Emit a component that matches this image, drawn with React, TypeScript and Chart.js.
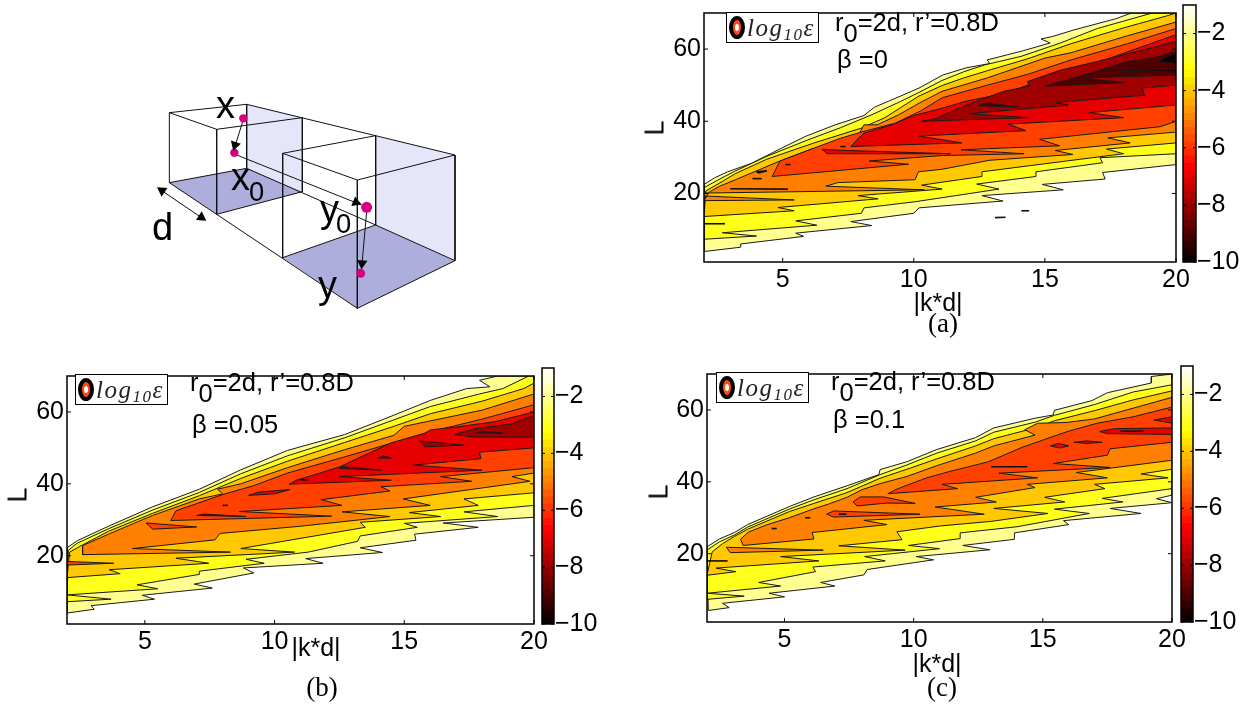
import React, { useEffect, useRef } from "react";
import { Chart, registerables } from "chart.js";
Chart.register(...registerables);

type P = number[][];

// ---------- level colours ----------
const C_PALE = "#ffff8f", C_YEL = "#ffff1c", C_GOLD = "#ffc800", C_ORG = "#ff8000", C_ROR = "#ff4000",
  C_RED = "#e60000", C_DRK = "#a00000", C_DK2 = "#500000", C_BLK = "#150000";

// ---------- panel (a)  beta = 0 : contour chains [ |k*d| , L ] ----------
const aLow1: P = [[2,3.9],[3.4,5.1],[3.4,6],[5.8,8.1],[5.5,9],[8.4,11.1],[7.6,12.2],[10,14.5],[10.2,16],[13.4,17.9],[12.6,19.4],[15.7,21],[14.9,22.5],[17.3,24],[17.2,25.8],[20,28]];
const aUp1: P = [[20,70],[18.3,70],[17.7,68.4],[16.1,65.3],[15.3,63.5],[14.85,62.8],[15.2,61.7],[14.15,59.5],[12.8,57],[12.9,56],[12,54.8],[11.1,52.8],[10.2,49.2],[9.5,47],[8.5,43.9],[8.1,41.6],[7,39],[5.9,35.9],[5,32.7],[3.8,28.3],[2.9,26],[2.4,24.3],[2,22.5]];
const aLow2: P = [[2,7.3],[4,8.2],[2.7,9.1],[6.3,11.2],[5.5,12.4],[8,14.5],[8.1,16],[10.05,17.7],[13.25,21.2],[12.4,22.6],[14.66,24.7],[14.66,26],[17.2,28.5],[17.1,29.9],[20,31]];
const aUp2: P = [[20,70],[19.1,70],[17,65.7],[15.6,61.7],[14.1,58],[12.7,55.6],[11.9,53.7],[11.08,51.3],[10.2,48],[9.5,45.5],[8.4,41.8],[7.2,38.2],[5.95,34.8],[4.4,30.3],[3.13,26],[2.5,23.6],[2,21.6]];
const aLow3: P = [[2,13.6],[5.44,15.2],[4.82,16.1],[8.64,18.5],[7.87,19.4],[11.08,21.2],[10.3,22.3],[12.6,24.7],[12.6,26],[18,31],[17.35,32.3],[20,34]];
const aUp3: P = [[20,70],[19.7,69.3],[18.06,66],[16,61.5],[14.34,57.3],[12.8,54],[11.9,52],[11.08,49.9],[10.2,47],[9.5,43.8],[8.9,41],[8,38.1],[6.2,34],[4.4,29.5],[3.2,25.5],[2.6,22.9],[2.07,20.7]];
const aLow4: P = [[2,18],[5.44,18.2],[2,19.3],[2,20.1],[10.4,21],[6.65,22],[7.1,23],[10.05,23.8],[10.18,26],[11.08,26.7],[12.9,29.2],[16.07,30.8],[15.4,31.9],[18.25,34],[17.4,35.4],[20,37]];
const aUp4: P = [[20,67.5],[18.06,63.5],[16,59],[15,57.5],[14,55],[12.8,52],[11.08,48.3],[10.2,45],[9.4,41.7],[8.6,39],[8.1,39],[7.9,36.3],[6.85,33.6],[6.1,32.3],[4.8,28.7],[3.2,23.8],[2.6,22],[2.2,20.4]];
const aLow5: P = [[4.6,24.7],[9.8,28.1],[8.3,29],[11.08,30.5],[14.2,31],[11.8,32.1],[15.56,33.2],[14.8,35],[19.4,38.5],[20,40]];
const aUp5: P = [[20,65.7],[18.06,61.3],[16,57],[14.34,53],[12.8,50],[11.08,46.5],[10.3,43],[9.3,39.5],[8,37],[7.2,35.3],[6.1,32.3],[4.9,29]];
const aLow6: P = [[7.6,33],[11.84,34],[10.2,35.9],[14.28,37.4],[13.6,39.2],[18,41],[16.7,42.4],[20,44.5]];
const aUp6: P = [[20,64],[18.6,60.4],[16.9,56],[15.6,53],[14.34,50],[13.44,47.6],[12,45.6],[11.08,43.6],[10.05,41.7],[9.15,39],[8.1,36.7],[7.9,35.4]];
const aLow7: P = [[10.3,40],[14.34,41],[12.1,42.1],[15.9,44.5],[15.4,45.2],[18.8,47.2],[18.7,49.2],[20,50]];
const aUp7: P = [[20,62.2],[19.1,60.4],[16.9,56.4],[15.56,54.1],[14.34,51],[14.4,49.7],[13.44,48.3],[12.55,46],[11.65,43.4],[10.88,40.8]];
const aLow8: P = [[15,49.7],[18,50.7],[16.5,52],[20,52.8]];
const aUp8: P = [[20,59.5],[19.2,57.7],[18.06,56.4],[16.9,53.7],[15.6,51]];
const aDark1: P = [[17.9,54],[20,53.8],[20,54.4]];
const aDark2: P = [[19.3,56.5],[20,56],[20,59],[19.7,58]];
const aWedge1: P = [[6.5,32.2],[6.7,31],[11.4,31],[7.5,31.9]];
const aWedge2: P = [[12.45,44.3],[14,43.9],[12.8,45.1]];
const aSliver: P[] = [[[3,21.3],[5.2,21.2]],[[3.85,24.1],[4.2,24.1]],[[4,26],[4.4,26.3],[4.1,25.7],[4,26]],[[5.1,28],[5.3,28]],[[7.2,33],[7.4,33]],[[13.1,13.3],[13.5,13.4]],[[14.1,15.2],[14.4,15.2]],[[2,11.6],[2.8,11.6]]];

// ---------- panel (b)  beta = 0.05 ----------
const bLow1: P = [[2,4.05],[3.05,5.1],[2.93,6.1],[5.37,7.9],[4.9,9],[7.6,11],[6.9,12.1],[9.2,15.2],[8.8,16.6],[11.87,17.9],[11.2,19.2],[14.16,20.9],[13.3,22.2],[15.45,24.3],[15.4,26],[17.85,27.9],[16.5,29.1],[20,30.7]];
const bUp1: P = [[20,70],[18.6,70],[17.9,68.8],[18.3,67],[17.4,66.5],[16,63.2],[14.6,59.1],[12.7,53.7],[10.5,49.3],[8.7,43.9],[7.1,38.5],[5.3,33.6],[3.6,28.2],[2.4,24.2],[2,22.2]];
const bLow2: P = [[2,7.2],[3.7,7.9],[2,9.1],[5.5,10.8],[4.7,11.9],[7.1,14.8],[7.1,15.7],[9.6,17.9],[8.9,19],[11.3,21],[13.2,24],[13.3,25.5],[15.5,27.9],[15,29],[18.6,30.9],[17.3,32.2],[20,34]];
const bUp2: P = [[20,70],[19.8,70],[18.8,66.5],[17.9,65],[16,61.5],[14.6,57.8],[12.7,52.8],[10.5,47.8],[8.7,42.8],[7.1,37.6],[5.3,32.7],[3.6,27.5],[2.4,23.5],[2.05,21.5]];
const bLow3: P = [[2,13.9],[4.05,15],[3.63,16.1],[7.46,17.9],[6.2,19.3],[10.77,21],[8.7,22],[13.5,27.9],[13.3,29.3],[16.4,30.9],[15.2,32],[17.85,34],[17.3,35.8],[20,37.5]];
const bUp3: P = [[20,68],[19.6,66.5],[18,63],[16,59.5],[14.6,56],[12.7,51.5],[10.5,46.3],[8.7,41.5],[7.1,36.7],[5.3,31.8],[3.6,26.8],[2.6,23],[2.1,21]];
const bLow4: P = [[2.6,22.8],[2.6,20.3],[8.3,21],[4.53,22],[7.7,24.4],[7.9,26.2],[11,28.2],[14.45,30.9],[12.6,32.2],[16,34],[14.96,35.8],[19.85,40.7],[19.15,42],[20,43]];
const bUp4: P = [[20,65],[18,60.5],[16,57.5],[15,56],[14.6,53.5],[12.7,49.5],[10.5,44.5],[8.7,40],[7.8,38.5],[8,37.2],[7.1,35.8],[5.3,31.2],[3.6,26]];
const bLow5: P = [[6,29.8],[12.2,31],[8.65,32.3],[12.6,34],[11.8,35.6],[14.45,38],[14.1,39.2],[17.6,40.7],[16.4,42],[20,44.5]];
const bUp5: P = [[20,62],[18,58],[16,54.5],[14.6,51.5],[12.7,47.5],[10.5,43],[9.2,39.5],[8,37],[7,34.5],[6.2,32.5]];
const bLow6: P = [[10.56,39.9],[14.5,41],[12.5,42],[18,43.8],[15.35,45.2],[17.95,47],[17.9,48.8],[20,50]];
const bUp6: P = [[20,60],[18.5,57.3],[17,55.8],[16,55],[15.8,54.1],[14.5,51.4],[13.3,47.4],[12.5,44.7],[11.7,42.9],[10.84,41]];
const bDark1: P = [[16.95,53.7],[17.7,55.3],[19.1,56.6],[20,59],[20,53],[17.7,53]];
const bDark2: P = [[15.6,51.9],[17.3,50.8],[15.8,50.3]];
const bDark3: P = [[14,47.2],[14.5,47.1],[14.2,47.8]];
const bDark4: P = [[12.5,44.3],[14.1,43.8],[12.6,44.8]];
const bRed1: P = [[9,36.8],[9.4,37.7],[10.6,38.4],[10,37.2]];
const bRed2: P = [[7,31.2],[8.9,30.9],[7.3,31.6]];
const bRor1: P = [[5.05,29.1],[7,28],[5.3,27.4]];
const bRor2: P = [[2,18.4],[3.8,17.9],[2,17.4]];
const bBlack: P = [[17.8,54.2],[18.8,54.1],[18,54.6]];
const bSliver: P[] = [[[11,41.1],[11.3,41.1]],[[8,34],[8.2,34]]];

// ---------- panel (c)  beta = 0.1 ----------
const cLow1: P = [[2.05,4.2],[2.86,5],[2.6,6.2],[5,8],[4.4,9],[6.95,11],[6.4,12],[8.07,14.1],[8.2,15.6],[10.77,18.3],[10.1,19.2],[12.95,21.1],[11.9,22.3],[13.9,24],[13.9,25.8],[16,28.1],[15.8,29.2],[18.8,31.2],[17.6,32.6],[20,34.2],[19.4,35.3],[20,36.3]];
const cUp1: P = [[20,70],[19.2,69.3],[19.2,67.5],[17.5,64.8],[16.9,62.6],[15.45,59.9],[15.4,58.6],[14.7,57.7],[13.1,55],[12.4,52.3],[10.9,49],[9.74,45.6],[8.7,43.4],[8.65,42],[7.42,38.9],[6.14,35.8],[5.18,33.1],[3.57,28.1],[3.06,25.9],[2.48,24.1],[2,21.9]];
const cLow2: P = [[2,7.3],[3.44,8.2],[2,9],[4.85,11],[4,12],[6.2,15],[6.1,16.3],[8.9,18],[8.1,19.2],[11,21.4],[9.8,22.3],[11.8,24.2],[11.8,25.8],[14,27.5],[16.8,31.2],[15.45,32.4],[18.1,34.4],[17.3,35.4],[20,38.1]];
const cUp2: P = [[20,67],[18.5,65],[17,61.5],[15.45,58.5],[14.7,56.6],[13.1,53.8],[12.4,51.4],[10.9,48],[9.74,44.7],[8.7,42],[7.42,38.1],[6.14,35],[5.18,32.4],[3.57,27.4],[3.06,25.2],[2.48,23.3],[2,21]];
const cLow3: P = [[2,14],[3.12,15],[2.35,16],[6.33,18],[4.85,19.2],[9.67,21],[7.1,22.2],[9.55,23.9],[9.35,26.1],[11,27.7],[13,29],[15.2,31.2],[13.1,32.6],[15.85,34.4],[15.07,35.7],[17.4,38.1],[17,39.3],[19.85,41.1],[18.8,42.2],[20,43.5]];
const cUp3: P = [[20,65.3],[18.5,62.8],[17,59.8],[15.45,57],[14.7,55],[13.1,52],[12.4,50],[10.9,46.4],[9.74,43.5],[8.7,41],[7.42,37],[6.14,34],[5.18,31.7],[3.57,26.8],[3.06,24.8],[2.6,22.8],[2.2,20.5]];
const cLow4: P = [[3.4,22.3],[6.14,24.1],[6.07,25.9],[8.97,28.1],[8.07,29.3],[12.73,31],[10.83,33],[13.2,34.4],[12.4,35.7],[14.7,38.4],[14.4,39.3],[17.5,41.1],[16.3,42.6],[20,46]];
const cUp4: P = [[20,63.5],[18.5,60.5],[17,57.5],[15.9,56.5],[14.8,56.3],[14.3,54.5],[14.7,53],[13.1,50],[12.4,48],[10.9,44.5],[9.74,41.5],[8.7,39.5],[8,37.8],[7.42,35.7],[6.7,33.8],[6.14,32.5],[5.18,30],[4.3,28],[3.6,26],[3.3,24]];
const cLow5: P = [[9,36.7],[11.7,38.1],[11.1,39.3],[14.8,41.1],[13.3,42.4],[17.6,44],[15.4,45.1],[17.5,47.4],[17.6,49.2],[20,51]];
const cUp5: P = [[20,60.8],[18.5,58.1],[17.1,56.3],[16,54.1],[15.07,51.8],[14.2,49.6],[12.9,45.6],[11.4,42.9],[10.5,41.1],[9.35,38]];
const cOrg1: P = [[2.75,21.8],[6.5,21],[2.9,20.3]];
const cRor1: P = [[7.65,34.4],[7.94,35.8],[8.84,35.8],[10.06,34],[8.97,34.1],[7.81,33.3]];
const cRor2: P = [[6.63,31],[6.9,31.9],[10.25,31],[6.9,30.2]];
const cRed1: P = [[17.2,54],[17.77,54.8],[20,55],[20,53.2],[17.5,53.4]];
const cRed2: P = [[15.3,50],[15.6,50.7],[16,50],[15.65,49.4]];
const cRed3: P = [[16.2,51],[16.7,51.4],[17.3,51],[16.7,50.7]];
const cRed4: P = [[19.3,57.2],[20,58.1],[20,56.3]];
const cSliver: P[] = [[[18,54.1],[18.9,54.1]],[[13,44.2],[14.4,44.2]],[[7.1,31],[7.4,31]],[[4.5,27],[4.7,27]],[[5.8,30],[6,30]],[[2,18],[2.8,18]]];

// ---------- axes ----------
const xTicks = [5, 10, 15, 20];
const yTicks = [20, 40, 60];
const barTicks = [-2, -4, -6, -8, -10];
const barLevels = [-10,-9.75,-9.5,-9.25,-9,-8.75,-8.5,-8.25,-8,-7.75,-7.5,-7.25,-7,-6.75,-6.5,-6.25,-6,-5.75,-5.5,-5.25,-5,-4.75,-4.5,-4.25,-4,-3.75,-3.5,-3.25,-3,-2.75,-2.5,-2.25,-2,-1.75,-1.5,-1.25];

// ---------- geometry sketch: [x, y] in sketch units ----------
const wall1: P = [[320,43],[487,83],[487,305],[320,235]];
const floor1: P = [[88,278],[320,235],[487,305],[230,373]];
const wall2: P = [[707,137],[945,195],[945,512],[707,405]];
const floor2: P = [[428,503],[707,405],[945,512],[652,655]];
const edges: P[] = [
  [[88,68],[320,43],[945,195],[945,512],[652,655],[230,373],[88,278],[88,68]],
  [[88,68],[230,118],[487,83],[487,305]],[[230,118],[230,373]],[[320,43],[320,235]],
  [[320,235],[707,405]],[[707,137],[428,190],[652,270],[945,195]],[[428,190],[428,503]],
  [[652,270],[652,655]],[[707,137],[707,405]],[[428,503],[707,405],[945,512]],[[88,278],[320,235]],[[230,373],[487,305]],
];
const arrows: P[] = [[[308,95],[283,175]],[[290,195],[665,345]],[[680,365],[665,532]],[[55,295],[195,390]]];
const heads = [
  { x: 285, y: 165, r: 197 }, { x: 648, y: 337, r: 112 }, { x: 666, y: 520, r: 185 },
  { x: 66, y: 302, r: 304 }, { x: 184, y: 382, r: 124 },
];
const dots = [{ x: 310, y: 85, r: 4.2 }, { x: 283, y: 188, r: 4.2 }, { x: 680, y: 352, r: 5.5 }, { x: 662, y: 550, r: 4.5 }];

const ring = (lo: P, up: P = []) => {
  const all = [...lo, ...up];
  return [...all, all[0]].map(([x, y]) => ({ x, y }));
};
const LINE = "#1a1a1a";
const poly = (pts: any[], color: string, stroke = LINE, w = 1) => ({
  type: "scatter" as const, data: pts, showLine: true, tension: 0, pointRadius: 0,
  fill: "shape", backgroundColor: color, borderColor: stroke, borderWidth: w,
});
const sliver = (p: P) => ({
  type: "scatter" as const, data: p.map(([x, y]) => ({ x, y })), showLine: true, tension: 0, pointRadius: 0,
  fill: false, borderColor: "#111", borderWidth: 1.6,
});

const panelA = [
  poly(ring(aLow1, aUp1), C_PALE), poly(ring(aLow2, aUp2), C_YEL), poly(ring(aLow3, aUp3), C_GOLD),
  poly(ring(aLow4, aUp4), C_ORG), poly(ring(aLow5, aUp5), C_ROR), poly(ring(aWedge1), C_RED),
  poly(ring(aLow6, aUp6), C_RED), poly(ring(aLow7, aUp7), C_DRK), poly(ring(aWedge2), C_DK2),
  poly(ring(aLow8, aUp8), C_DK2), poly(ring(aDark1), C_BLK), poly(ring(aDark2), C_BLK), ...aSliver.map(sliver),
];
const panelB = [
  poly(ring(bLow1, bUp1), C_PALE), poly(ring(bLow2, bUp2), C_YEL), poly(ring(bLow3, bUp3), C_GOLD),
  poly(ring(bRor2), C_ROR), poly(ring(bLow4, bUp4), C_ORG), poly(ring(bRor1), C_ROR), poly(ring(bLow5, bUp5), C_ROR),
  poly(ring(bRed2), C_DRK), poly(ring(bRed1), C_RED), poly(ring(bLow6, bUp6), C_RED),
  poly(ring(bDark1), C_DRK), poly(ring(bDark2), C_DRK), poly(ring(bDark3), C_DRK), poly(ring(bDark4), C_DRK),
  poly(ring(bBlack), C_DK2), ...bSliver.map(sliver),
];
const panelC = [
  poly(ring(cLow1, cUp1), C_PALE), poly(ring(cLow2, cUp2), C_YEL), poly(ring(cLow3, cUp3), C_GOLD),
  poly(ring(cOrg1), C_ORG), poly(ring(cLow4, cUp4), C_ORG), poly(ring(cRor1), C_ROR), poly(ring(cRor2), C_ROR),
  poly(ring(cLow5, cUp5), C_ROR), poly(ring(cRed1), C_RED), poly(ring(cRed2), C_RED), poly(ring(cRed3), C_RED),
  poly(ring(cRed4), C_RED), ...cSliver.map(sliver),
];

const FONT = "'Liberation Sans', Arial, sans-serif";
const hot = (v: number) => {
  const t = (v + 0.125 + 10) / 9;
  const c = (a: number) => Math.round(255 * Math.max(0, Math.min(1, a)));
  return `rgb(${c(t / 0.375)},${c((t - 0.375) / 0.375)},${c((t - 0.75) / 0.25)})`;
};

const frame = {
  id: "frame",
  afterDatasetsDraw(ch: any) {
    const { ctx, chartArea: a, scales } = ch;
    ctx.save();
    ctx.strokeStyle = "#000";
    ctx.lineWidth = 1.5;
    ctx.strokeRect(a.left, a.top, a.right - a.left, a.bottom - a.top);
    ctx.lineWidth = 1;
    const t = ch.options.plugins.frame.tick;
    ctx.beginPath();
    if (scales.x.options.display) for (const k of scales.x.ticks) {
      const p = scales.x.getPixelForValue(k.value);
      ctx.moveTo(p, a.bottom); ctx.lineTo(p, a.bottom - t);
      ctx.moveTo(p, a.top); ctx.lineTo(p, a.top + t);
    }
    for (const k of scales.y.ticks) {
      const p = scales.y.getPixelForValue(k.value);
      ctx.moveTo(a.left, p); ctx.lineTo(a.left + t, p);
      ctx.moveTo(a.right, p); ctx.lineTo(a.right - t, p);
    }
    ctx.stroke();
    ctx.restore();
  },
};

const fixTicks = (vals: number[]) => (s: any) => { s.ticks = vals.map((value) => ({ value })); };
const tickFont = { family: FONT, size: 25 };
const minus = (v: any) => String(v).replace("-", "\u2212");

function contourConfig(datasets: any[]) {
  return {
    type: "scatter" as const,
    data: { datasets },
    plugins: [frame],
    options: {
      responsive: false, animation: false as const, events: [] as any[],
      layout: { autoPadding: false, padding: { top: 10, right: 30, bottom: 0, left: 0 } },
      plugins: { legend: { display: false }, tooltip: { enabled: false }, frame: { tick: 4 } },
      elements: { line: { borderJoinStyle: "miter" as const } },
      scales: {
        x: {
          type: "linear" as const, min: 2, max: 20, afterBuildTicks: fixTicks(xTicks), afterFit: (s: any) => { s.height = 34; },
          grid: { display: false, tickLength: 0 }, border: { display: false },
          ticks: { color: "#000", font: tickFont, padding: 3, maxRotation: 0, autoSkip: false },
        },
        y: {
          type: "linear" as const, min: 1, max: 70, afterBuildTicks: fixTicks(yTicks), afterFit: (s: any) => { s.width = 60; },
          grid: { display: false, tickLength: 0 }, border: { display: false },
          ticks: { color: "#000", font: tickFont, padding: 3, autoSkip: false },
        },
      },
    },
  };
}

function barConfig() {
  return {
    type: "bar" as const,
    data: {
      datasets: [{
        data: barLevels.map((y) => ({ x: 1, y: y + 0.125 })),
        backgroundColor: barLevels.map(hot), barThickness: 8, borderWidth: 0,
      }],
    },
    plugins: [frame],
    options: {
      indexAxis: "y" as const, responsive: false, animation: false as const, events: [] as any[],
      layout: { autoPadding: false, padding: { top: 10, right: 0, bottom: 10, left: 4 } },
      plugins: { legend: { display: false }, tooltip: { enabled: false }, frame: { tick: 3 } },
      scales: {
        x: { display: false, min: 0, max: 1 },
        y: {
          type: "linear" as const, position: "right" as const, offset: false, min: -10, max: -1, afterBuildTicks: fixTicks(barTicks),
          afterFit: (s: any) => { s.width = 60; s.paddingTop = 0; s.paddingBottom = 0; }, grid: { display: false, tickLength: 0 }, border: { display: false },
          ticks: { color: "#000", font: tickFont, padding: 1, callback: minus, autoSkip: false },
        },
      },
    },
  };
}

function sketchConfig() {
  const fillPoly = (p: P, color: string) => ({
    data: ring(p), showLine: true, tension: 0, pointRadius: 0, fill: "shape", backgroundColor: color, borderWidth: 0, borderColor: "transparent",
  });
  const line = (p: P) => ({ data: p.map(([x, y]) => ({ x, y })), showLine: true, tension: 0, pointRadius: 0, fill: false, borderColor: "#111", borderWidth: 1 });
  return {
    type: "scatter" as const,
    data: {
      datasets: [
        fillPoly(wall1, "#e6e6fb"), fillPoly(floor1, "#aeaedc"), fillPoly(wall2, "#e6e6fb"), fillPoly(floor2, "#aeaedc"),
        ...edges.map(line), ...arrows.map(line),
        { data: dots.map(({ x, y }) => ({ x, y })), pointRadius: dots.map((d) => d.r), pointBackgroundColor: "#d6007f", pointBorderWidth: 0 },
        { data: heads.map(({ x, y }) => ({ x, y })), pointStyle: "triangle", pointRadius: 6, pointRotation: heads.map((h) => h.r), pointBackgroundColor: "#000", pointBorderWidth: 0 },
      ].map((d: any, i: number) => ({ ...d, order: -i })),
    },
    options: {
      responsive: false, animation: false as const, events: [] as any[],
      layout: { autoPadding: false, padding: 0 },
      plugins: { legend: { display: false }, tooltip: { enabled: false } },
      scales: {
        x: { type: "linear" as const, display: false, min: 0, max: 990 },
        y: { type: "linear" as const, display: false, min: 0, max: 690, reverse: true },
      },
    },
  };
}

function Cv({ x, y, w, h, cfg }: { x: number; y: number; w: number; h: number; cfg: () => any }) {
  const ref = useRef<HTMLCanvasElement>(null);
  useEffect(() => {
    const c = new Chart(ref.current as any, cfg());
    return () => c.destroy();
  }, []);
  return <canvas ref={ref} width={w} height={h} style={{ position: "absolute", left: x, top: y, width: w, height: h }} />;
}

const ordered = (ds: any[]) => ds.map((d, i) => ({ ...d, order: -i }));

function T({ x, y, size = 25, font = FONT, style, children }: any) {
  return <div style={{ position: "absolute", left: x, top: y, fontFamily: font, fontSize: size, lineHeight: 1, whiteSpace: "nowrap", color: "#000", ...style }}>{children}</div>;
}
const Sub = ({ children, s = 0.95, d = 0.3, m = 0 }: any) => <span style={{ fontSize: `${s}em`, position: "relative", top: `${d}em`, marginLeft: m }}>{children}</span>;

function LegendBox({ x, y }: { x: number; y: number }) {
  return (
    <div style={{ position: "absolute", left: x, top: y, width: 91, height: 29, border: "1.5px solid #000", background: "#fff" }}>
      <div style={{ position: "absolute", left: 2, top: 3, width: 8, height: 15, borderRadius: "50%", border: "4px solid #000", background: "#ff4a10" }}>
        <div style={{ position: "absolute", left: 2, top: 4, width: 4, height: 7, borderRadius: "50%", background: "#fff" }} />
      </div>
      <div style={{ position: "absolute", left: 20, top: 2, fontFamily: "'Liberation Serif', serif", fontStyle: "italic", fontSize: 25, lineHeight: 1, whiteSpace: "nowrap", letterSpacing: 1.5, color: "#222" }}>
        log<span style={{ fontSize: 17, position: "relative", top: 4 }}>10</span>ε
      </div>
    </div>
  );
}

function Notes({ x, y1, y2, beta }: any) {
  return (
    <>
      <T x={x} y={y1} size={25.5}>r<Sub s={1} d={0.45}>0</Sub>=2d, r’=0.8D</T>
      <T x={x + 2} y={y2} size={25.5}>β =<span>{beta}</span></T>
    </>
  );
}
const rotL: React.CSSProperties = { transform: "translate(-50%,-50%) rotate(-90deg)" };
const ctr: React.CSSProperties = { transform: "translate(-50%,-50%)" };
const SERIF = "'Liberation Serif', serif";

export default function App() {
  return (
    <div style={{ position: "fixed", left: 0, top: 0, width: 1250, height: 706, background: "#fff", overflow: "hidden" }}>
      <Cv x={140} y={90} w={330} h={230} cfg={sketchConfig} />
      <T x={216} y={86} size={38}>x</T>
      <T x={231} y={158} size={38}>x<Sub s={0.72} d={0.42} m={-1}>0</Sub></T>
      <T x={320} y={190} size={38}>y<Sub s={0.72} d={0.42} m={-3}>0</Sub></T>
      <T x={318} y={266} size={38}>y</T>
      <T x={152} y={208} size={38}>d</T>

      <Cv x={644} y={-5} w={562} h={301} cfg={() => contourConfig(ordered(panelA))} />
      <Cv x={1179} y={-5} w={77} h={277} cfg={barConfig} />
      <T x={655} y={128} size={27} style={rotL}>L</T>
      <T x={938} y={302} size={25} style={ctr}>|k*d|</T>
      <T x={943} y={323} size={27} font={SERIF} style={ctr}>(a)</T>
      <LegendBox x={726} y={12} />
      <Notes x={835} y1={10} y2={47} beta="0" />

      <Cv x={7} y={358} w={557} h={300} cfg={() => contourConfig(ordered(panelB))} />
      <Cv x={538} y={358} w={76} h={276} cfg={barConfig} />
      <T x={18} y={495} size={27} style={rotL}>L</T>
      <T x={316} y={647} size={25} style={ctr}>|k*d|</T>
      <T x={322} y={687} size={27} font={SERIF} style={ctr}>(b)</T>
      <LegendBox x={75} y={374} />
      <Notes x={190} y1={370} y2={412} beta="0.05" />

      <Cv x={647} y={356} w={555} h={300} cfg={() => contourConfig(ordered(panelC))} />
      <Cv x={1177} y={356} w={76} h={276} cfg={barConfig} />
      <T x={659} y={492} size={27} style={rotL}>L</T>
      <T x={937} y={663} size={25} style={ctr}>|k*d|</T>
      <T x={942} y={687} size={27} font={SERIF} style={ctr}>(c)</T>
      <LegendBox x={716} y={372} />
      <Notes x={831} y1={369} y2={407} beta="0.1" />
    </div>
  );
}
